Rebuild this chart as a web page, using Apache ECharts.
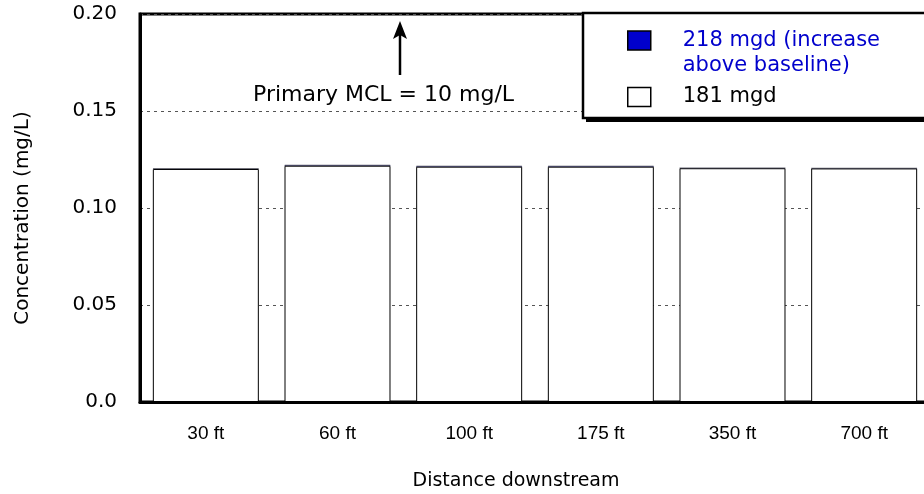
<!DOCTYPE html>
<html>
<head>
<meta charset="utf-8">
<script src="https://cdn.jsdelivr.net/npm/echarts@6/dist/echarts.min.js"></script>
<style>
  html, body { margin: 0; padding: 0; background: #fff; }
  #chart { width: 924px; height: 494px; }
</style>
</head>
<body>
<div id="chart"></div>
<script>
// distances downstream
var categories = ['30 ft', '60 ft', '100 ft', '175 ft', '350 ft', '700 ft'];
// 181 mgd baseline concentration (mg/L)
var baseline181 = [0.1201, 0.1218, 0.1213, 0.1213, 0.1205, 0.1204];
// 218 mgd increase above baseline (mg/L)
var increase218 = [0.0003, 0.0004, 0.0004, 0.0004, 0.0001, 0.0001];
var yTicks = [0, 0.05, 0.10, 0.15, 0.20];

var wide = '"DejaVu Sans", Verdana, sans-serif';
var plain = '"Liberation Sans", Arial, sans-serif';
var chart = echarts.init(document.getElementById('chart'));

var yFmt = function (v) {
    if (v === 0) return '0.0';
    return v.toFixed(2);
};

var option = {
    backgroundColor: '#fff',
    animation: false,
    grid: {
        left: 140,
        right: -6,
        top: 14,
        bottom: 92,
        outerBoundsMode: 'none',
        show: true,
        borderColor: '#000',
        borderWidth: 3,
        backgroundColor: 'transparent'
    },
    legend: {
        z: 100,
        orient: 'vertical',
        left: 627,
        top: 2,
        padding: 0,
        icon: 'rect',
        itemWidth: 23,
        itemHeight: 19,
        itemGap: 4.5,
        selectedMode: false,
        textStyle: { fontFamily: wide, fontSize: 21, color: '#000', lineHeight: 25, padding: [2, 0, 0, 27] },
        formatter: function (name) {
            return name.indexOf('218') === 0 ? ' \n' + name : name;
        },
        data: [
            {
                name: '218 mgd (increase\nabove baseline)',
                textStyle: { color: '#0000cc' },
                itemStyle: { color: '#0000cc', borderColor: '#000', borderWidth: 1.5 }
            },
            {
                name: '181 mgd',
                itemStyle: { color: '#fff', borderColor: '#000', borderWidth: 1.5 }
            }
        ]
    },
    xAxis: {
        type: 'category',
        data: categories,
        z: 5,
        name: 'Distance downstream',
        nameLocation: 'middle',
        nameGap: 70,
        nameTextStyle: { fontFamily: wide, fontSize: 19, color: '#000', padding: [0, 38, 0, 0] },
        axisLine: { show: true, lineStyle: { color: '#000', width: 3 } },
        axisTick: { show: false },
        axisLabel: { fontFamily: plain, fontSize: 19, color: '#000', margin: 22 }
    },
    yAxis: [
        {
            type: 'value',
            min: 0,
            max: 0.2,
            interval: 0.05,
            z: 5,
            name: 'Concentration (mg/L)',
            nameLocation: 'middle',
            nameGap: 107,
            nameTextStyle: { fontFamily: wide, fontSize: 20, color: '#000', padding: [0, 20, 0, 0] },
            axisLine: { show: true, lineStyle: { color: '#000', width: 3 } },
            axisTick: { show: false },
            axisLabel: { fontFamily: wide, fontSize: 20, color: '#000', margin: 23, formatter: yFmt },
            splitLine: { show: false }
        },
        {
            // gridlines only, kept behind the bars
            type: 'value',
            position: 'left',
            min: 0,
            max: 0.2,
            interval: 0.05,
            z: 0,
            axisLine: { show: false },
            axisTick: { show: false },
            axisLabel: { show: false },
            splitLine: { lineStyle: { color: '#555', type: [3, 4], width: 1 } }
        }
    ],
    series: [
        {
            name: '181 mgd',
            type: 'bar',
            stack: 'c',
            barWidth: '80.5%',
            data: baseline181,
            itemStyle: { color: '#fff', borderColor: '#000', borderWidth: 1 }
        },
        {
            name: '218 mgd (increase\nabove baseline)',
            type: 'bar',
            stack: 'c',
            barWidth: '80.5%',
            data: increase218,
            itemStyle: { color: '#0000cc', borderColor: '#223', borderWidth: 0.5 }
        }
    ],
    graphic: [
        // legend box shadow + frame
        { type: 'rect', z: 90, shape: { x: 586, y: 16, width: 360, height: 106 }, style: { fill: '#000' } },
        { type: 'rect', z: 91, shape: { x: 583, y: 13, width: 360, height: 105 }, style: { fill: '#fff', stroke: '#000', lineWidth: 2.5 } },
        // MCL annotation
        { type: 'text', z: 50, x: 253, y: 95, style: { text: 'Primary MCL = 10 mg/L', fontFamily: wide, fontSize: 22, fill: '#000', verticalAlign: 'middle' } },
        { type: 'line', z: 50, shape: { x1: 400, y1: 34, x2: 400, y2: 75 }, style: { stroke: '#000', lineWidth: 2.5 } },
        { type: 'polygon', z: 50, shape: { points: [[400, 21], [393, 39], [400, 35], [407, 39]] }, style: { fill: '#000' } }
    ]
};
chart.setOption(option);
</script>
</body>
</html>
